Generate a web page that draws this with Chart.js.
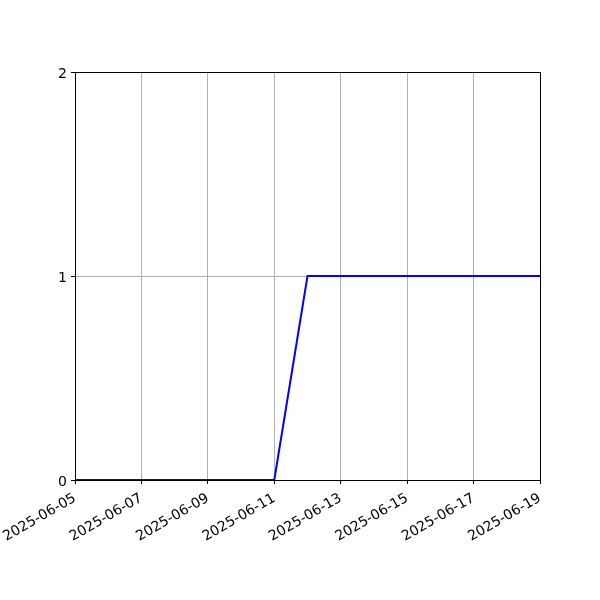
<!DOCTYPE html>
<html>
<head>
<meta charset="utf-8">
<script src="https://cdn.jsdelivr.net/npm/chart.js@4"></script>
<style>
  html, body { margin: 0; padding: 0; background: #fff; }
  #wrap { width: 600px; height: 600px; }
</style>
</head>
<body>
<div id="wrap"><canvas id="chart" width="600" height="600"></canvas></div>
<script>
// dates of the series, one point per day
var dates = ['2025-06-05','2025-06-06','2025-06-07','2025-06-08','2025-06-09',
             '2025-06-10','2025-06-11','2025-06-12','2025-06-13','2025-06-14',
             '2025-06-15','2025-06-16','2025-06-17','2025-06-18','2025-06-19'];
var values = [0, 0, 0, 0, 0, 0, 0, 1, 1, 1, 1, 1, 1, 1, 1];
var yTicks = [0, 1, 2];

function dayIndex(d) {
    return dates.indexOf(d);
}

var points = dates.map(function(d, i) {
    return { x: dayIndex(d), y: values[i] };
});

// matplotlib style box around the plot area
var frame = {
    id: 'frame',
    afterDraw: function(chart) {
        var a = chart.chartArea;
        var c = chart.ctx;
        c.save();
        c.strokeStyle = '#000';
        c.lineWidth = 1;
        c.strokeRect(Math.round(a.left) + 0.5, Math.round(a.top) + 0.5,
                     Math.round(a.right - a.left), Math.round(a.bottom - a.top));
        c.restore();
    }
};

const ctx = document.getElementById('chart');

var myChart = new Chart(ctx, {
    type: 'line',
    data: {
        datasets: [{
            data: points,
            borderColor: '#0000ff',
            backgroundColor: '#0000ff',
            borderWidth: 2,
            pointRadius: 0,
            tension: 0,
            clip: false
        }]
    },
    options: {
        responsive: false,
        animation: false,
        layout: { padding: { top: 72, right: 60, left: 0, bottom: 0 } },
        plugins: { legend: { display: false }, tooltip: { enabled: false } },
        scales: {
            x: {
                type: 'linear',
                min: 0,
                max: dates.length - 1,
                afterBuildTicks: function(axis) {
                    axis.ticks = dates.map(function(d, i) { return { value: i }; })
                                      .filter(function(t) { return t.value % 2 == 0; });
                },
                afterFit: function(axis) {
                    axis.height = 120;
                    axis.paddingLeft = 0;
                    axis.paddingRight = 0;
                },
                grid: { color: '#b0b0b0', tickColor: '#000', tickLength: 4, drawOnChartArea: true },
                border: { color: '#000' },
                ticks: {
                    autoSkip: false,
                    maxRotation: 30,
                    minRotation: 30,
                    color: '#000',
                    padding: 6,
                    font: { family: 'DejaVu Sans', size: 14 },
                    callback: function(v) { return dates[v]; }
                }
            },
            y: {
                min: 0,
                max: 2,
                afterBuildTicks: function(axis) {
                    axis.ticks = yTicks.map(function(v) { return { value: v }; });
                },
                afterFit: function(axis) {
                    axis.width = 75;
                    axis.paddingTop = 0;
                    axis.paddingBottom = 0;
                },
                grid: { color: '#b0b0b0', tickColor: '#000', tickLength: 4 },
                border: { color: '#000' },
                ticks: {
                    color: '#000',
                    padding: 4,
                    labelOffset: 2,
                    font: { family: 'DejaVu Sans', size: 14 }
                }
            }
        }
    },
    plugins: [frame]
});
</script>
</body>
</html>
